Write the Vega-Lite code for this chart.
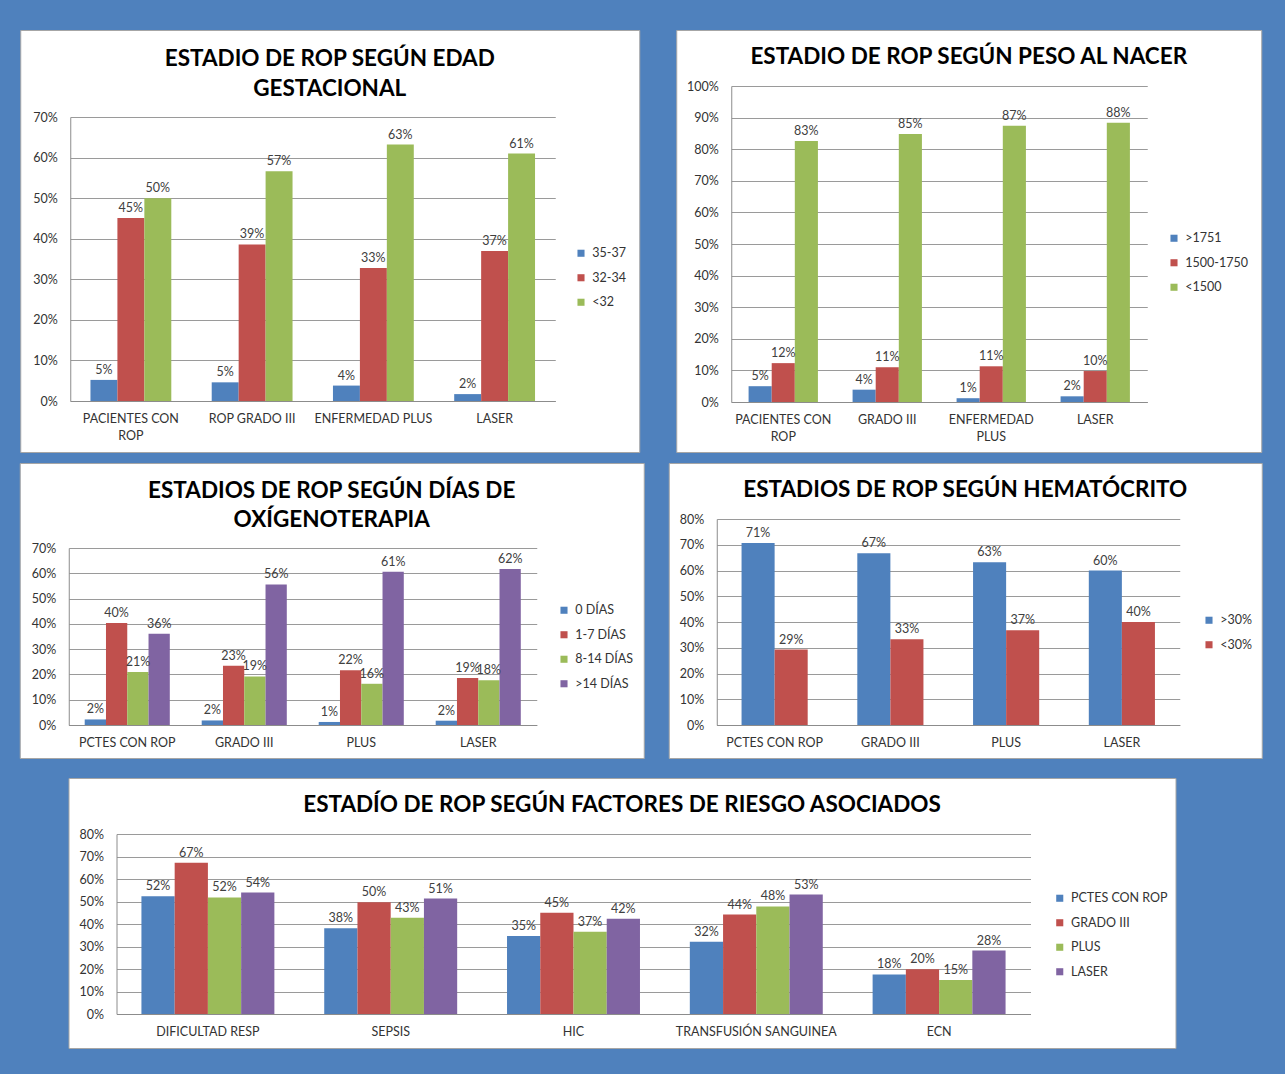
{
  "$schema": "https://vega.github.io/schema/vega-lite/v6.json",
  "background": "#4F81BD",
  "padding": {"left": 18.5, "top": 29, "right": 40, "bottom": 40},
  "datasets": {
    "edad": [
      {"cat": "PACIENTES CON ROP", "serie": "35-37", "value": 0.052},
      {"cat": "PACIENTES CON ROP", "serie": "32-34", "value": 0.451},
      {"cat": "PACIENTES CON ROP", "serie": "<32", "value": 0.5},
      {"cat": "ROP GRADO III", "serie": "35-37", "value": 0.046},
      {"cat": "ROP GRADO III", "serie": "32-34", "value": 0.386},
      {"cat": "ROP GRADO III", "serie": "<32", "value": 0.566},
      {"cat": "ENFERMEDAD PLUS", "serie": "35-37", "value": 0.038},
      {"cat": "ENFERMEDAD PLUS", "serie": "32-34", "value": 0.328},
      {"cat": "ENFERMEDAD PLUS", "serie": "<32", "value": 0.632},
      {"cat": "LASER", "serie": "35-37", "value": 0.017},
      {"cat": "LASER", "serie": "32-34", "value": 0.37},
      {"cat": "LASER", "serie": "<32", "value": 0.61}
    ],
    "peso": [
      {"cat": "PACIENTES CON ROP", "serie": ">1751", "value": 0.05},
      {"cat": "PACIENTES CON ROP", "serie": "1500-1750", "value": 0.123},
      {"cat": "PACIENTES CON ROP", "serie": "<1500", "value": 0.826},
      {"cat": "GRADO III", "serie": ">1751", "value": 0.039},
      {"cat": "GRADO III", "serie": "1500-1750", "value": 0.11},
      {"cat": "GRADO III", "serie": "<1500", "value": 0.848},
      {"cat": "ENFERMEDAD PLUS", "serie": ">1751", "value": 0.012},
      {"cat": "ENFERMEDAD PLUS", "serie": "1500-1750", "value": 0.113},
      {"cat": "ENFERMEDAD PLUS", "serie": "<1500", "value": 0.874},
      {"cat": "LASER", "serie": ">1751", "value": 0.018},
      {"cat": "LASER", "serie": "1500-1750", "value": 0.098},
      {"cat": "LASER", "serie": "<1500", "value": 0.884}
    ],
    "oxigeno": [
      {"cat": "PCTES CON ROP", "serie": "0 DÍAS", "value": 0.022},
      {"cat": "PCTES CON ROP", "serie": "1-7 DÍAS", "value": 0.403},
      {"cat": "PCTES CON ROP", "serie": "8-14 DÍAS", "value": 0.21},
      {"cat": "PCTES CON ROP", "serie": ">14 DÍAS", "value": 0.361},
      {"cat": "GRADO III", "serie": "0 DÍAS", "value": 0.018},
      {"cat": "GRADO III", "serie": "1-7 DÍAS", "value": 0.234},
      {"cat": "GRADO III", "serie": "8-14 DÍAS", "value": 0.192},
      {"cat": "GRADO III", "serie": ">14 DÍAS", "value": 0.556},
      {"cat": "PLUS", "serie": "0 DÍAS", "value": 0.012},
      {"cat": "PLUS", "serie": "1-7 DÍAS", "value": 0.217},
      {"cat": "PLUS", "serie": "8-14 DÍAS", "value": 0.163},
      {"cat": "PLUS", "serie": ">14 DÍAS", "value": 0.606},
      {"cat": "LASER", "serie": "0 DÍAS", "value": 0.017},
      {"cat": "LASER", "serie": "1-7 DÍAS", "value": 0.186},
      {"cat": "LASER", "serie": "8-14 DÍAS", "value": 0.177},
      {"cat": "LASER", "serie": ">14 DÍAS", "value": 0.617}
    ],
    "hemato": [
      {"cat": "PCTES CON ROP", "serie": ">30%", "value": 0.707},
      {"cat": "PCTES CON ROP", "serie": "<30%", "value": 0.293},
      {"cat": "GRADO III", "serie": ">30%", "value": 0.667},
      {"cat": "GRADO III", "serie": "<30%", "value": 0.333},
      {"cat": "PLUS", "serie": ">30%", "value": 0.632},
      {"cat": "PLUS", "serie": "<30%", "value": 0.368},
      {"cat": "LASER", "serie": ">30%", "value": 0.6},
      {"cat": "LASER", "serie": "<30%", "value": 0.4}
    ],
    "factores": [
      {"cat": "DIFICULTAD RESP", "serie": "PCTES CON ROP", "value": 0.523},
      {"cat": "DIFICULTAD RESP", "serie": "GRADO III", "value": 0.672},
      {"cat": "DIFICULTAD RESP", "serie": "PLUS", "value": 0.518},
      {"cat": "DIFICULTAD RESP", "serie": "LASER", "value": 0.54},
      {"cat": "SEPSIS", "serie": "PCTES CON ROP", "value": 0.381},
      {"cat": "SEPSIS", "serie": "GRADO III", "value": 0.497},
      {"cat": "SEPSIS", "serie": "PLUS", "value": 0.428},
      {"cat": "SEPSIS", "serie": "LASER", "value": 0.513},
      {"cat": "HIC", "serie": "PCTES CON ROP", "value": 0.347},
      {"cat": "HIC", "serie": "GRADO III", "value": 0.45},
      {"cat": "HIC", "serie": "PLUS", "value": 0.366},
      {"cat": "HIC", "serie": "LASER", "value": 0.423},
      {"cat": "TRANSFUSIÓN SANGUINEA", "serie": "PCTES CON ROP", "value": 0.321},
      {"cat": "TRANSFUSIÓN SANGUINEA", "serie": "GRADO III", "value": 0.442},
      {"cat": "TRANSFUSIÓN SANGUINEA", "serie": "PLUS", "value": 0.478},
      {"cat": "TRANSFUSIÓN SANGUINEA", "serie": "LASER", "value": 0.531},
      {"cat": "ECN", "serie": "PCTES CON ROP", "value": 0.176},
      {"cat": "ECN", "serie": "GRADO III", "value": 0.199},
      {"cat": "ECN", "serie": "PLUS", "value": 0.151},
      {"cat": "ECN", "serie": "LASER", "value": 0.282}
    ]
  },
  "config": {
    "font": "Lato",
    "axis": {"labelFont": "Lato", "labelFontSize": 12.5, "labelColor": "#333333", "domainColor": "#8C8C8C", "domainWidth": 1, "ticks": false, "gridColor": "#9A9A9A", "gridWidth": 1, "labelPadding": 13, "title": null},
    "axisX": {"labelAngle": 0, "labelPadding": 11, "labelLineHeight": 17, "labelLimit": 400},
    "legend": {"symbolType": "square", "symbolSize": 50, "symbolStrokeWidth": 0, "labelFontSize": 12.5, "labelFont": "Lato", "labelColor": "#333333", "rowPadding": 11.5, "labelOffset": 5, "padding": 0},
    "title": {"font": "Lato", "fontSize": 22.5, "fontWeight": "bold", "color": "#000000", "anchor": "middle", "frame": "group", "baseline": "top", "lineHeight": 30}
  },
  "spacing": 18,
  "resolve": {"scale": {"color": "independent", "xOffset": "independent"}, "legend": {"color": "independent"}},
  "vconcat": [
    {
      "spacing": 9,
      "center": true,
      "resolve": {"scale": {"color": "independent", "xOffset": "independent"}, "legend": {"color": "independent"}},
      "vconcat": [
        {
          "spacing": 35,
          "resolve": {"scale": {"color": "independent", "xOffset": "independent"}, "legend": {"color": "independent"}},
          "hconcat": [
            {
              "width": 619, "height": 422,
              "view": {"fill": "white", "stroke": "#A6A6A6", "strokeWidth": 1},
              "data": {"name": "edad"},
              "title": {"text": ["ESTADIO DE ROP SEGÚN EDAD", "GESTACIONAL"], "offset": -70.5},
              "encoding": {
                "x": {"field": "cat", "type": "nominal", "sort": ["PACIENTES CON ROP", "ROP GRADO III", "ENFERMEDAD PLUS", "LASER"], "scale": {"range": [50, 535], "paddingInner": 0.3333, "paddingOuter": 0.1667}, "axis": {"title": null, "offset": -51, "labelExpr": "datum.label == 'PACIENTES CON ROP' ? ['PACIENTES CON', 'ROP'] : datum.label"}},
                "xOffset": {"field": "serie", "type": "nominal", "sort": ["35-37", "32-34", "<32"], "scale": {"paddingInner": 0, "paddingOuter": 0}},
                "y": {"field": "value", "type": "quantitative", "stack": null, "scale": {"domain": [0, 0.7], "nice": false, "range": [371, 87]}, "axis": {"title": null, "offset": -50, "format": ".0%", "values": [0, 0.1, 0.2, 0.3, 0.4, 0.5, 0.6, 0.7]}}
              },
              "layer": [
                {
                  "mark": {"type": "bar"},
                  "encoding": {
                    "color": {"field": "serie", "type": "nominal", "scale": {"domain": ["35-37", "32-34", "<32"], "range": ["#4F81BD", "#C0504D", "#9BBB59"]}, "legend": {"title": null, "orient": "none", "legendX": 554.5, "legendY": 217}}
                  }
                },
                {
                  "mark": {"type": "text", "baseline": "bottom", "dy": -3, "fontSize": 12.5, "fill": "#404040"},
                  "encoding": {"text": {"field": "value", "type": "quantitative", "format": ".0%"}}
                }
              ]
            },
            {
              "width": 585, "height": 422,
              "view": {"fill": "white", "stroke": "#A6A6A6", "strokeWidth": 1},
              "data": {"name": "peso"},
              "title": {"text": "ESTADIO DE ROP SEGÚN PESO AL NACER", "offset": -38.5},
              "encoding": {
                "x": {"field": "cat", "type": "nominal", "sort": ["PACIENTES CON ROP", "GRADO III", "ENFERMEDAD PLUS", "LASER"], "scale": {"range": [55, 471], "paddingInner": 0.3333, "paddingOuter": 0.1667}, "axis": {"title": null, "offset": -50, "labelExpr": "datum.label == 'PACIENTES CON ROP' ? ['PACIENTES CON', 'ROP'] : datum.label == 'ENFERMEDAD PLUS' ? ['ENFERMEDAD', 'PLUS'] : datum.label"}},
                "xOffset": {"field": "serie", "type": "nominal", "sort": [">1751", "1500-1750", "<1500"], "scale": {"paddingInner": 0, "paddingOuter": 0}},
                "y": {"field": "value", "type": "quantitative", "stack": null, "scale": {"domain": [0, 1], "nice": false, "range": [372, 56]}, "axis": {"title": null, "offset": -55, "format": ".0%", "values": [0, 0.1, 0.2, 0.3, 0.4, 0.5, 0.6, 0.7, 0.8, 0.9, 1]}}
              },
              "layer": [
                {
                  "mark": {"type": "bar"},
                  "encoding": {
                    "color": {"field": "serie", "type": "nominal", "scale": {"domain": [">1751", "1500-1750", "<1500"], "range": ["#4F81BD", "#C0504D", "#9BBB59"]}, "legend": {"title": null, "orient": "none", "legendX": 491.5, "legendY": 202}}
                  }
                },
                {
                  "mark": {"type": "text", "baseline": "bottom", "dy": -3, "fontSize": 12.5, "fill": "#404040"},
                  "encoding": {"text": {"field": "value", "type": "quantitative", "format": ".0%"}}
                }
              ]
            }
          ]
        },
        {
          "spacing": 23,
          "resolve": {"scale": {"color": "independent", "xOffset": "independent"}, "legend": {"color": "independent"}},
          "hconcat": [
            {
              "width": 624, "height": 295,
              "view": {"fill": "white", "stroke": "#A6A6A6", "strokeWidth": 1},
              "data": {"name": "oxigeno"},
              "title": {"text": ["ESTADIOS DE ROP SEGÚN DÍAS DE", "OXÍGENOTERAPIA"], "offset": -68.5, "lineHeight": 29},
              "encoding": {
                "x": {"field": "cat", "type": "nominal", "sort": ["PCTES CON ROP", "GRADO III", "PLUS", "LASER"], "scale": {"range": [49, 517], "paddingInner": 0.2727, "paddingOuter": 0.1364}, "axis": {"title": null, "offset": -33}},
                "xOffset": {"field": "serie", "type": "nominal", "sort": ["0 DÍAS", "1-7 DÍAS", "8-14 DÍAS", ">14 DÍAS"], "scale": {"paddingInner": 0, "paddingOuter": 0}},
                "y": {"field": "value", "type": "quantitative", "stack": null, "scale": {"domain": [0, 0.7], "nice": false, "range": [262, 85]}, "axis": {"title": null, "offset": -49, "format": ".0%", "values": [0, 0.1, 0.2, 0.3, 0.4, 0.5, 0.6, 0.7]}}
              },
              "layer": [
                {
                  "mark": {"type": "bar"},
                  "encoding": {
                    "color": {"field": "serie", "type": "nominal", "scale": {"domain": ["0 DÍAS", "1-7 DÍAS", "8-14 DÍAS", ">14 DÍAS"], "range": ["#4F81BD", "#C0504D", "#9BBB59", "#8064A2"]}, "legend": {"title": null, "orient": "none", "legendX": 538, "legendY": 141}}
                  }
                },
                {
                  "mark": {"type": "text", "baseline": "bottom", "dy": -3, "fontSize": 12.5, "fill": "#404040"},
                  "encoding": {"text": {"field": "value", "type": "quantitative", "format": ".0%"}}
                }
              ]
            },
            {
              "width": 593, "height": 295,
              "view": {"fill": "white", "stroke": "#A6A6A6", "strokeWidth": 1},
              "data": {"name": "hemato"},
              "title": {"text": "ESTADIOS DE ROP SEGÚN HEMATÓCRITO", "offset": -38.5},
              "encoding": {
                "x": {"field": "cat", "type": "nominal", "sort": ["PCTES CON ROP", "GRADO III", "PLUS", "LASER"], "scale": {"range": [48, 511], "paddingInner": 0.4286, "paddingOuter": 0.2143}, "axis": {"title": null, "offset": -33}},
                "xOffset": {"field": "serie", "type": "nominal", "sort": [">30%", "<30%"], "scale": {"paddingInner": 0, "paddingOuter": 0}},
                "y": {"field": "value", "type": "quantitative", "stack": null, "scale": {"domain": [0, 0.8], "nice": false, "range": [262, 56]}, "axis": {"title": null, "offset": -48, "format": ".0%", "values": [0, 0.1, 0.2, 0.3, 0.4, 0.5, 0.6, 0.7, 0.8]}}
              },
              "layer": [
                {
                  "mark": {"type": "bar"},
                  "encoding": {
                    "color": {"field": "serie", "type": "nominal", "scale": {"domain": [">30%", "<30%"], "range": ["#4F81BD", "#C0504D"]}, "legend": {"title": null, "orient": "none", "legendX": 534, "legendY": 151}}
                  }
                },
                {
                  "mark": {"type": "text", "baseline": "bottom", "dy": -3, "fontSize": 12.5, "fill": "#404040"},
                  "encoding": {"text": {"field": "value", "type": "quantitative", "format": ".0%"}}
                }
              ]
            }
          ]
        }
      ]
    },
    {
      "spacing": 47,
      "resolve": {"scale": {"color": "independent", "xOffset": "independent"}, "legend": {"color": "independent"}},
      "hconcat": [
        {
          "width": 1, "height": 1,
          "view": {"fill": null, "stroke": null},
          "data": {"values": []},
          "mark": "point",
          "encoding": {}
        },
        {
          "width": 1107, "height": 270,
          "view": {"fill": "white", "stroke": "#A6A6A6", "strokeWidth": 1},
          "data": {"name": "factores"},
          "title": {"text": "ESTADÍO DE ROP SEGÚN FACTORES DE RIESGO ASOCIADOS", "offset": -38.5},
          "encoding": {
            "x": {"field": "cat", "type": "nominal", "sort": ["DIFICULTAD RESP", "SEPSIS", "HIC", "TRANSFUSIÓN SANGUINEA", "ECN"], "scale": {"range": [48, 962], "paddingInner": 0.2727, "paddingOuter": 0.1364}, "axis": {"title": null, "offset": -34}},
            "xOffset": {"field": "serie", "type": "nominal", "sort": ["PCTES CON ROP", "GRADO III", "PLUS", "LASER"], "scale": {"paddingInner": 0, "paddingOuter": 0}},
            "y": {"field": "value", "type": "quantitative", "stack": null, "scale": {"domain": [0, 0.8], "nice": false, "range": [236, 56]}, "axis": {"title": null, "offset": -48, "format": ".0%", "values": [0, 0.1, 0.2, 0.3, 0.4, 0.5, 0.6, 0.7, 0.8]}}
          },
          "layer": [
            {
              "mark": {"type": "bar"},
              "encoding": {
                "color": {"field": "serie", "type": "nominal", "scale": {"domain": ["PCTES CON ROP", "GRADO III", "PLUS", "LASER"], "range": ["#4F81BD", "#C0504D", "#9BBB59", "#8064A2"]}, "legend": {"title": null, "orient": "none", "legendX": 985, "legendY": 114}}
              }
            },
            {
              "mark": {"type": "text", "baseline": "bottom", "dy": -3, "fontSize": 12.5, "fill": "#404040"},
              "encoding": {"text": {"field": "value", "type": "quantitative", "format": ".0%"}}
            }
          ]
        }
      ]
    }
  ]
}
